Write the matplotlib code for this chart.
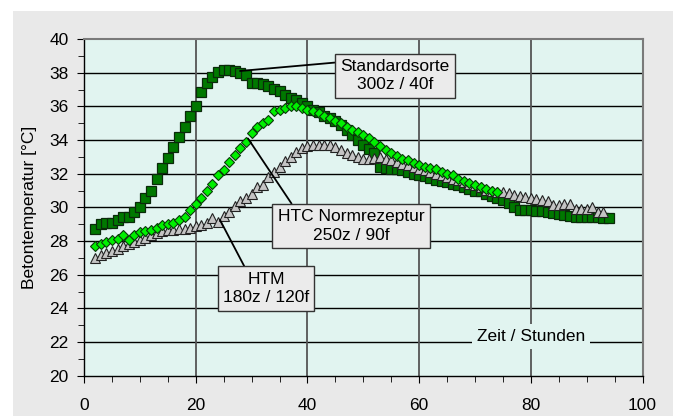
import matplotlib
matplotlib.use("Agg")
import matplotlib.pyplot as plt
from matplotlib.patches import Rectangle
from matplotlib.ticker import MultipleLocator

plt.rcParams['font.family'] = ['Liberation Sans', 'DejaVu Sans']

# ---------------- data ----------------
hours_std = list(range(2, 95))
temp_std = [28.7, 29.0, 29.05, 29.1, 29.25, 29.4, 29.45, 29.75, 30.0, 30.55,
            31.0, 31.7, 32.35, 32.95, 33.6, 34.2, 34.8, 35.4, 36.0, 36.85,
            37.4, 37.75, 38.05, 38.15, 38.15, 38.1, 38.0, 37.85, 37.4, 37.4,
            37.3, 37.2, 37.05, 36.9, 36.7, 36.5, 36.4, 36.2, 36.0, 35.8,
            35.65, 35.45, 35.3, 35.1, 34.9, 34.6, 34.3, 34.0, 33.7, 33.45,
            33.2, 32.4, 32.35, 32.3, 32.3, 32.2, 32.1, 32.0, 31.95, 31.85,
            31.75, 31.65, 31.55, 31.5, 31.4, 31.3, 31.2, 31.1, 31.0, 30.95,
            30.8, 30.7, 30.55, 30.45, 30.25, 30.05, 29.85, 29.82, 29.82, 29.8,
            29.8, 29.75, 29.68, 29.62, 29.55, 29.5, 29.45, 29.45, 29.45, 29.45,
            29.42, 29.38, 29.35]

hours_htc = list(range(2, 75))
temp_htc = [27.7, 27.85, 27.95, 28.05, 28.1, 28.35, 28.05, 28.35, 28.55, 28.6,
            28.65, 28.75, 28.95, 29.0, 29.1, 29.25, 29.45, 29.85, 30.2, 30.55,
            31.0, 31.4, 31.9, 32.2, 32.7, 33.1, 33.5, 33.9, 34.4, 34.8,
            35.0, 35.2, 35.7, 35.8, 35.9, 36.0, 36.0, 35.9, 35.8, 35.7,
            35.6, 35.4, 35.3, 35.15, 35.0, 34.8, 34.6, 34.45, 34.3, 34.1,
            33.9, 33.65, 33.4, 33.2, 33.05, 32.9, 32.8, 32.65, 32.5, 32.4,
            32.35, 32.25, 32.1, 32.0, 31.9, 31.7, 31.55, 31.45, 31.3, 31.2,
            31.1, 31.0, 30.9]

hours_htm = list(range(2, 94))
temp_htm = [27.0, 27.15, 27.27, 27.4, 27.55, 27.7, 27.8, 27.95, 28.05, 28.2,
            28.35, 28.5, 28.6, 28.65, 28.65, 28.7, 28.7, 28.75, 28.9, 28.95,
            29.05, 29.35, 29.15, 29.5, 29.75, 30.1, 30.35, 30.55, 30.8, 31.2,
            31.35, 31.8, 32.1, 32.4, 32.75, 33.0, 33.3, 33.55, 33.65, 33.7,
            33.7, 33.7, 33.7, 33.6, 33.4, 33.25, 33.1, 33.0, 32.9, 32.9,
            32.95, 33.0, 32.9, 32.8, 32.7, 32.6, 32.5, 32.4, 32.3, 32.2,
            32.1, 32.0, 31.9, 31.8, 31.7, 31.6, 31.5, 31.4, 31.3, 31.2,
            31.05, 30.95, 30.9, 30.9, 30.85, 30.75, 30.7, 30.6, 30.55, 30.5,
            30.45, 30.4, 30.15, 30.15, 30.2, 30.2, 29.9, 29.9, 29.9, 30.0,
            29.75, 29.75]

label_std = "Standardsorte\n300z / 40f"
label_htc = "HTC Normrezeptur\n250z / 90f"
label_htm = "HTM\n180z / 120f"
ylabel = "Betontemperatur [°C]"
xlabel = "Zeit / Stunden"

# ---------------- figure ----------------
fig = plt.figure(figsize=(6.73, 4.16), dpi=100)
fig.patch.set_facecolor('white')
bg = Rectangle((13 / 673, 0), 1 - 13 / 673, (416 - 11) / 416,
               transform=fig.transFigure, facecolor='#e9e9e9',
               edgecolor='none', zorder=-10)
fig.add_artist(bg)

ax = fig.add_axes([84 / 673, (416 - 375.7) / 416, (642.6 - 84) / 673, (375.7 - 39) / 416])
ax.set_zorder(5)
ax.set_facecolor('#e1f4f0')
ax.set_xlim(0, 100)
ax.set_ylim(20, 40)

ax.xaxis.set_major_locator(MultipleLocator(20))
ax.xaxis.set_minor_locator(MultipleLocator(5))
ax.yaxis.set_major_locator(MultipleLocator(2))
ax.yaxis.set_minor_locator(MultipleLocator(1))
ax.tick_params(axis='both', which='both', direction='out', color='black',
               labelsize=12.5, top=False, right=False)
ax.tick_params(axis='y', which='major', length=5, pad=6)
ax.tick_params(axis='y', which='minor', length=4)
ax.tick_params(axis='x', which='major', length=5, pad=11)
ax.tick_params(axis='x', which='minor', length=4)

for s in ('left', 'bottom'):
    ax.spines[s].set_color('black')
    ax.spines[s].set_linewidth(1.0)
for s in ('right', 'top'):
    ax.spines[s].set_color('#7a7a7a')
    ax.spines[s].set_linewidth(1.5)

# grid
for yv in range(22, 40, 2):
    ax.axhline(yv, color='black', lw=1.0, zorder=1)
for xv in range(20, 100, 20):
    ax.axvline(xv, color='#555555', lw=1.3, zorder=1)

ax.set_ylabel(ylabel, fontsize=12.5, labelpad=9)

# x label inside plot
ax.text(80, 22.32, xlabel, ha='center', va='center', fontsize=12.5, zorder=3,
        bbox=dict(boxstyle='square,pad=0.3', facecolor='#e1f4f0', edgecolor='none'))

# series
ax.plot(hours_std, temp_std, linestyle='none', marker='s', ms=7.6,
        mfc='#007800', mec='#0a2a0a', mew=0.9, zorder=4)
ax.plot(hours_htm, temp_htm, linestyle='none', marker='^', ms=6.6,
        mfc='#c4c4c4', mec='#222222', mew=0.8, zorder=5)
ax.plot(hours_htc, temp_htc, linestyle='none', marker='D', ms=5.4,
        mfc='#00f000', mec='#0a3a0a', mew=0.8, zorder=6)

box = dict(boxstyle='square,pad=0.3', facecolor='#ebebeb', edgecolor='#333333', lw=1.0)
arrow = dict(arrowstyle='-', color='black', lw=1.3, shrinkA=0, shrinkB=0)

ax.annotate(label_std, xy=(27.93, 38.10), xytext=(55.67, 37.83), ha='center', va='center',
            fontsize=12.5, linespacing=1.3, bbox=box, zorder=8,
            arrowprops=dict(arrow, relpos=(0.0, 0.9)))
ax.annotate(label_htc, xy=(29.36, 34.09), xytext=(47.8, 28.89), ha='center', va='center',
            fontsize=12.5, linespacing=1.3, bbox=box, zorder=8,
            arrowprops=dict(arrow, relpos=(0.12, 1.0)))
ax.annotate(label_htm, xy=(24.35, 29.25), xytext=(32.6, 25.18), ha='center', va='center',
            fontsize=12.5, linespacing=1.3, bbox=box, zorder=8,
            arrowprops=dict(arrow, relpos=(0.28, 1.0)))

fig.savefig('out.png', dpi=100, facecolor=fig.get_facecolor())
